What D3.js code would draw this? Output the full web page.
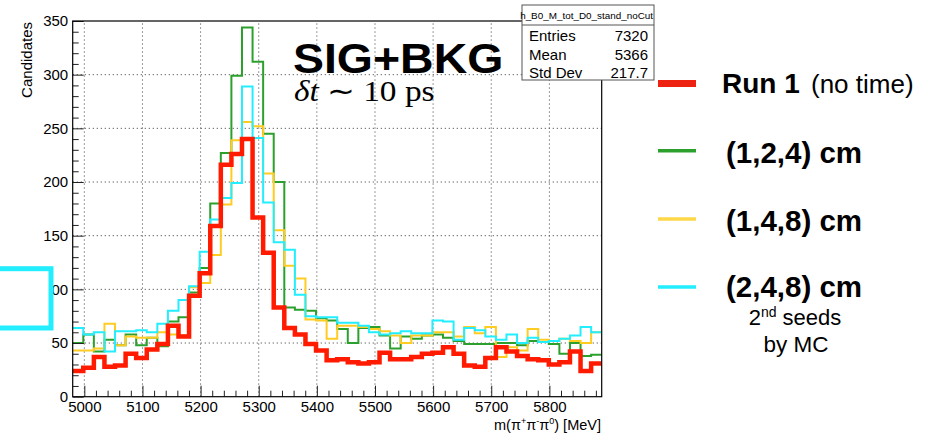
<!DOCTYPE html>
<html>
<head>
<meta charset="utf-8">
<script src="https://cdnjs.cloudflare.com/ajax/libs/d3/7.8.5/d3.min.js"></script>
<style>
  html, body { margin: 0; padding: 0; background: white; overflow: hidden; }
  svg { display: block; }
  text { font-family: "Liberation Sans", Arial, Helvetica, sans-serif; }
</style>
</head>
<body>
<svg width="927" height="433"></svg>
<script>
// histogram binning, 50 bins
var xMin = 4980
var xMax = 5890
var nBins = 50

// bin contents
var red    = [24, 27, 37, 28, 29, 40, 36, 44, 49, 66, 56, 94, 115, 159, 216, 226, 240, 167, 134, 83, 64, 58, 49, 43, 34, 35, 32, 31, 32, 41, 35, 35, 37, 40, 41, 46, 40, 29, 28, 36, 46, 42, 38, 35, 34, 30, 32, 42, 24, 31]
var green  = [50, 58, 42, 53, 48, 58, 48, 55, 47, 70, 74, 97, 120, 180, 227, 299, 344, 312, 245, 200, 83, 81, 80, 73, 71, 63, 50, 64, 65, 57, 45, 56, 54, 57, 58, 55, 52, 49, 49, 49, 50, 50, 48, 52, 51, 49, 40, 50, 38, 39]
var yellow = [43, 43, 45, 68, 48, 56, 55, 55, 60, 58, 57, 102, 106, 132, 179, 239, 256, 252, 208, 155, 122, 110, 72, 71, 54, 66, 66, 65, 63, 61, 57, 50, 57, 57, 60, 60, 56, 65, 59, 65, 37, 46, 43, 63, 53, 52, 54, 52, 50, 60]
var cyan   = [64, 58, 60, 42, 61, 61, 62, 60, 68, 80, 90, 103, 135, 165, 185, 199, 289, 241, 181, 144, 137, 95, 75, 74, 74, 69, 69, 66, 60, 58, 59, 61, 59, 59, 71, 70, 53, 64, 62, 56, 53, 58, 50, 55, 51, 52, 54, 57, 65, 60]

var xTicks = [5000, 5100, 5200, 5300, 5400, 5500, 5600, 5700, 5800]
var yTicks = [0, 50, 100, 150, 200, 250, 300, 350]

var statsTitle = "h_B0_M_tot_D0_stand_noCut"
var statsRows = [["Entries", "7320"], ["Mean", "5366"], ["Std Dev", "217.7"]]

var svg = d3.select("svg")

var x = d3.scaleLinear().domain([xMin, xMax]).range([72.7, 601.7])
var y = d3.scaleLinear().domain([0, 350]).range([396.7, 21])
var binW = (xMax - xMin) / nBins

//grid
var grid = svg.append("g").attr("stroke", "#666").attr("stroke-width", 1).attr("stroke-dasharray", "1.3,2.7")
grid.selectAll(".gx").data(xTicks).join("line")
    .attr("x1", d => x(d)).attr("x2", d => x(d)).attr("y1", y(0)).attr("y2", y(350))
grid.selectAll(".gy").data(yTicks.slice(1, 7)).join("line")
    .attr("x1", x(xMin)).attr("x2", x(xMax)).attr("y1", d => y(d)).attr("y2", d => y(d))

//histograms, step outline
function drawHist(vals, color, width) {
    var pts = vals.map((v, i) => [xMin + i * binW, v])
    pts.push([xMax, vals[vals.length - 1]])
    var line = d3.line().x(d => x(d[0])).y(d => y(d[1])).curve(d3.curveStepAfter)
    svg.append("path").datum(pts)
        .attr("d", line)
        .attr("fill", "none")
        .attr("stroke", color)
        .attr("stroke-width", width)
        .attr("stroke-linejoin", "miter")
}
drawHist(green, "#2ca02c", 2)
drawHist(yellow, "#ffcc22", 2)
drawHist(cyan, "#22eeff", 2)
drawHist(red, "#ff1a00", 4.5)

//axes, ticks point inward like ROOT
svg.append("g").attr("transform", "translate(" + x(xMin) + ",0)")
    .call(d3.axisLeft(y).tickValues(yTicks).tickSizeInner(-11).tickSizeOuter(0).tickPadding(4.5))
svg.append("g").attr("transform", "translate(" + x(xMin) + ",0)")
    .call(d3.axisLeft(y).tickValues(d3.range(10, 350, 10).filter(d => d % 50 != 0)).tickSize(-6).tickFormat(""))
svg.append("g").attr("transform", "translate(0," + y(0) + ")")
    .call(d3.axisBottom(x).tickValues(xTicks).tickSizeInner(-11).tickSizeOuter(0).tickPadding(5).tickFormat(d3.format("d")))
svg.append("g").attr("transform", "translate(0," + y(0) + ")")
    .call(d3.axisBottom(x).tickValues(d3.range(5020, 5890, 20).filter(d => d % 100 != 0)).tickSize(-6).tickFormat(""))
svg.selectAll(".domain").remove()
svg.selectAll(".tick line").attr("stroke", "#222")
svg.selectAll(".tick text").attr("fill", "black")
    .style("font", "15px 'Liberation Sans', Arial, sans-serif")

//frame
svg.append("rect")
    .attr("x", x(xMin)).attr("y", y(350))
    .attr("width", x(xMax) - x(xMin)).attr("height", y(0) - y(350))
    .attr("fill", "none").attr("stroke", "black").attr("stroke-width", 1.2)

//axis titles
svg.append("text").text("Candidates")
    .attr("transform", "translate(31.5,22) rotate(-90)")
    .attr("text-anchor", "end").style("font-size", "15px")
var xt = svg.append("text").attr("x", 601).attr("y", 430).attr("text-anchor", "end").style("font-size", "14.5px")
xt.append("tspan").text("m(\u03c0")
xt.append("tspan").text("+").attr("dy", -6).style("font-size", "9px")
xt.append("tspan").text("\u03c0").attr("dy", 6)
xt.append("tspan").text("-").attr("dy", -6).style("font-size", "9px")
xt.append("tspan").text("\u03c0").attr("dy", 6)
xt.append("tspan").text("0").attr("dy", -6).style("font-size", "9px")
xt.append("tspan").text(") [MeV]").attr("dy", 6)

//labels on the plot
svg.append("text").text("SIG+BKG")
    .attr("transform", "translate(293,72.5) scale(1.08,1)")
    .style("font-size", "43px").style("font-weight", "bold")
var dt = svg.append("text").attr("transform", "translate(294,100.5) scale(1.15,1)")
    .style("font-family", "'Liberation Serif', 'Times New Roman', serif").style("font-size", "29px")
dt.append("tspan").text("\u03b4t").style("font-style", "italic")
dt.append("tspan").text(" \u223c 10 ps")

//stats box
var stats = svg.append("g")
stats.append("rect").attr("x", 522).attr("y", 5).attr("width", 132).attr("height", 75)
    .attr("fill", "white").attr("stroke", "#555").attr("stroke-width", 1)
stats.append("line").attr("x1", 522).attr("x2", 654).attr("y1", 25).attr("y2", 25)
    .attr("stroke", "#555")
stats.append("text").text(statsTitle)
    .attr("x", 653).attr("y", 19).attr("text-anchor", "end")
    .style("font-size", "9.9px")
stats.selectAll(".lab").data(statsRows).join("text")
    .attr("x", 529).attr("y", (d, i) => 41 + i * 18.5)
    .style("font-size", "15px").text(d => d[0])
stats.selectAll(".val").data(statsRows).join("text")
    .attr("x", 648).attr("y", (d, i) => 41 + i * 18.5)
    .attr("text-anchor", "end").style("font-size", "15px").text(d => d[1])

//legend to the right
var legend = [
    {color: "#ee2211", w: 7, y: 83.5},
    {color: "#2ca02c", w: 3.5, y: 150.7},
    {color: "#ffd84a", w: 3.5, y: 219},
    {color: "#22eeff", w: 3.5, y: 287}
]
svg.selectAll(".leg").data(legend).join("line")
    .attr("x1", 658).attr("x2", 696)
    .attr("y1", d => d.y).attr("y2", d => d.y)
    .attr("stroke", d => d.color).attr("stroke-width", d => d.w)

svg.append("text").text("Run 1").attr("x", 722).attr("y", 93)
    .style("font-size", "28px").style("font-weight", "bold")
svg.append("text").text("(no time)").attr("x", 811).attr("y", 93)
    .style("font-size", "26px")
svg.append("text").text("(1,2,4) cm").attr("x", 726).attr("y", 163)
    .style("font-size", "29.5px").style("font-weight", "bold")
svg.append("text").text("(1,4,8) cm").attr("x", 726).attr("y", 231)
    .style("font-size", "29.5px").style("font-weight", "bold")
svg.append("text").text("(2,4,8) cm").attr("x", 726).attr("y", 297)
    .style("font-size", "29.5px").style("font-weight", "bold")
var s2 = svg.append("text").attr("x", 795).attr("y", 325).attr("text-anchor", "middle").style("font-size", "22px")
s2.append("tspan").text("2")
s2.append("tspan").text("nd").attr("dy", -8).style("font-size", "14px")
s2.append("tspan").text(" seeds").attr("dy", 8)
svg.append("text").text("by MC").attr("x", 796).attr("y", 352)
    .attr("text-anchor", "middle").style("font-size", "22.5px")

//stray cyan box on the left edge
svg.append("rect").attr("x", -20).attr("y", 268.7).attr("width", 71).attr("height", 59.3)
    .attr("fill", "white").attr("stroke", "#22eeff").attr("stroke-width", 5)
</script>
</body>
</html>
